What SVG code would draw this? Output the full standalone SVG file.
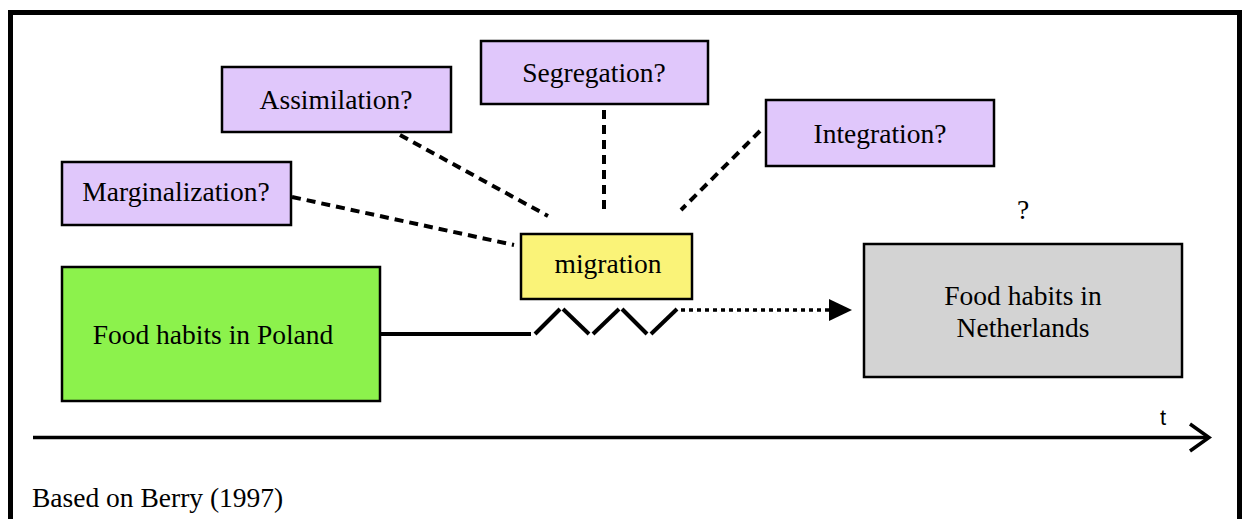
<svg xmlns="http://www.w3.org/2000/svg" width="1242" height="519" viewBox="0 0 1242 519">
<style>
.box{stroke:#000;stroke-width:2.5}
.p{fill:#e0c7fb}
.lbl{font-family:"Liberation Serif","Times New Roman",serif;font-size:27.5px;fill:#000;text-anchor:middle}
.dash{stroke:#000;stroke-width:4;stroke-dasharray:9 6;fill:none}
</style>
<rect x="0" y="0" width="1242" height="519" fill="#fff"/>
<path d="M10.5,525 V12.5 H1239.5 V525" fill="none" stroke="#000" stroke-width="5"/>
<g id="connectors">
<line class="dash" x1="292" y1="197" x2="514" y2="245"/>
<line class="dash" x1="400" y1="135" x2="548" y2="216"/>
<line class="dash" x1="604" y1="110" x2="604" y2="212"/>
<line class="dash" x1="760" y1="131" x2="681" y2="210"/>
<line x1="380" y1="334" x2="531" y2="334" stroke="#000" stroke-width="4"/>
<g stroke="#000" stroke-width="4" fill="none">
<line x1="535" y1="334" x2="560" y2="309"/>
<line x1="563" y1="309" x2="589" y2="334"/>
<line x1="593" y1="334" x2="619" y2="309"/>
<line x1="622" y1="309" x2="647" y2="334"/>
<line x1="651" y1="334" x2="677" y2="309"/>
</g>
<line x1="681" y1="310" x2="832" y2="310" stroke="#000" stroke-width="3.5" stroke-dasharray="4 4"/>
<path d="M829,299 L852,310 L829,321 Z" fill="#000"/>
<line x1="33" y1="437.5" x2="1208" y2="437.5" stroke="#000" stroke-width="3.5"/>
<path d="M1190,424 L1209,437.5 L1190,451" fill="none" stroke="#000" stroke-width="3.5"/>
</g>
<g id="assimilation"><rect class="box p" x="222" y="67" width="229" height="65"/><text class="lbl" x="336" y="109">Assimilation?</text></g>
<g id="segregation"><rect class="box p" x="481" y="41" width="227" height="63"/><text class="lbl" x="594" y="82">Segregation?</text></g>
<g id="integration"><rect class="box p" x="766" y="100" width="228" height="66"/><text class="lbl" x="880" y="143">Integration?</text></g>
<g id="marginalization"><rect class="box p" x="62" y="162" width="229" height="63"/><text class="lbl" x="176" y="201">Marginalization?</text></g>
<g id="migration"><rect class="box" x="521" y="234" width="171" height="65" fill="#faf378"/><text class="lbl" x="608" y="273">migration</text></g>
<g id="poland"><rect class="box" x="62" y="267" width="318" height="134" fill="#8cf24c"/><text class="lbl" x="213" y="344">Food habits in Poland</text></g>
<g id="netherlands"><rect class="box" x="864" y="244" width="318" height="133" fill="#d3d3d3"/><text class="lbl" x="1023" y="305">Food habits in</text><text class="lbl" x="1023" y="337">Netherlands</text></g>
<text class="lbl" x="1023" y="219">?</text>
<text x="1163" y="425" style="font-family:'Liberation Sans',Arial,sans-serif;font-size:22px;text-anchor:middle">t</text>
<text x="32" y="507" style="font-family:'Liberation Serif','Times New Roman',serif;font-size:27.5px">Based on Berry (1997)</text>
</svg>
